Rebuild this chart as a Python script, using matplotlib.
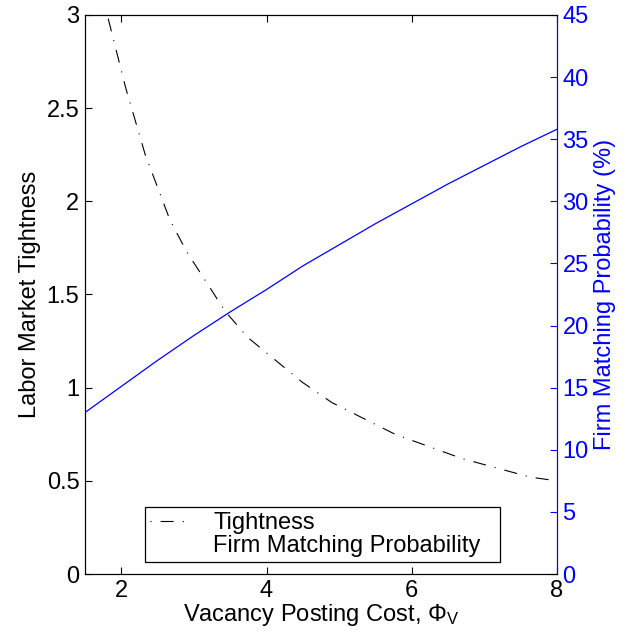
import matplotlib
matplotlib.use("Agg")
import matplotlib.pyplot as plt
from matplotlib.lines import Line2D

plt.rcParams['font.family'] = ['Liberation Sans', 'DejaVu Sans']
plt.rcParams['mathtext.fontset'] = 'custom'
plt.rcParams['mathtext.rm'] = 'Liberation Sans'
plt.rcParams['mathtext.it'] = 'Liberation Sans'
plt.rcParams['lines.scale_dashes'] = False

# vacancy posting cost vs tightness (left axis)
cost_t = [1.82, 2.06, 2.33, 2.67, 2.90, 3.43, 3.74, 4.49, 4.90, 5.77, 6.69, 7.63, 8.0]
tightness = [2.98, 2.61, 2.25, 1.90, 1.73, 1.41, 1.27, 1.03, 0.92, 0.75, 0.62, 0.52, 0.50]

# vacancy posting cost vs firm matching probability in % (right axis)
cost_p = [1.5, 2.0, 2.5, 3.0, 3.5, 4.0, 4.5, 5.0, 5.5, 6.0, 6.5, 7.0, 7.5, 8.0]
match_prob = [13.0, 15.1, 17.2, 19.2, 21.1, 22.9, 24.8, 26.5, 28.2, 29.8, 31.4, 32.9, 34.4, 35.8]

FS = 17

fig = plt.figure(figsize=(6.37, 6.4), dpi=100)
ax = fig.add_axes([0.1334, 0.1031, 0.741, 0.8735])
dashdot = (0, (9.4, 6.5, 0.8, 6.5))
ax.plot(cost_t, tightness, color='black', lw=0.8, linestyle=dashdot)
ax.set_xlim(1.5, 8)
ax.set_ylim(0, 3)
ax.set_xticks([2, 4, 6, 8])
ax.set_yticks([0, 0.5, 1, 1.5, 2, 2.5, 3])
ax.set_yticklabels(['0', '0.5', '1', '1.5', '2', '2.5', '3'])
ax.tick_params(direction='in', length=5, labelsize=FS, top=True, right=True, pad=4)
ax.set_ylabel('Labor Market Tightness', fontsize=FS, labelpad=4)
ax.set_xlabel(r'Vacancy Posting Cost, $\Phi_\mathrm{V}$', fontsize=FS, labelpad=0)

ax2 = ax.twinx()
ax2.plot(cost_p, match_prob, color='blue', lw=0.9)
ax2.set_xlim(1.5, 8)
ax2.set_ylim(0, 45)
ax2.set_yticks(range(0, 50, 5))
ax2.tick_params(axis='y', direction='in', length=5, labelsize=FS, colors='blue', pad=4)
ax2.spines['right'].set_color('blue')
ax2.set_ylabel('Firm Matching Probability (%)', fontsize=FS, color='blue', labelpad=4)

# legend sample starts with a dot, like the original
handles = [Line2D([], [], color='black', lw=0.8, linestyle=(15.9, (9.4, 6.5, 0.8, 6.5))),
           Line2D([], [], color='none')]
leg = ax.legend(handles, ['Tightness', 'Firm Matching Probability'],
                loc='lower left', bbox_to_anchor=(0.2276, 0.1219, 0.557, 0.09),
                mode='expand',
                bbox_transform=fig.transFigure, fontsize=FS, fancybox=False,
                framealpha=1, edgecolor='black', borderaxespad=0,
                handlelength=1.7, handletextpad=1.0, labelspacing=0.05,
                borderpad=0.2)
leg.get_frame().set_linewidth(0.9)
leg.set_zorder(5)

fig.savefig('out.png', dpi=100)
